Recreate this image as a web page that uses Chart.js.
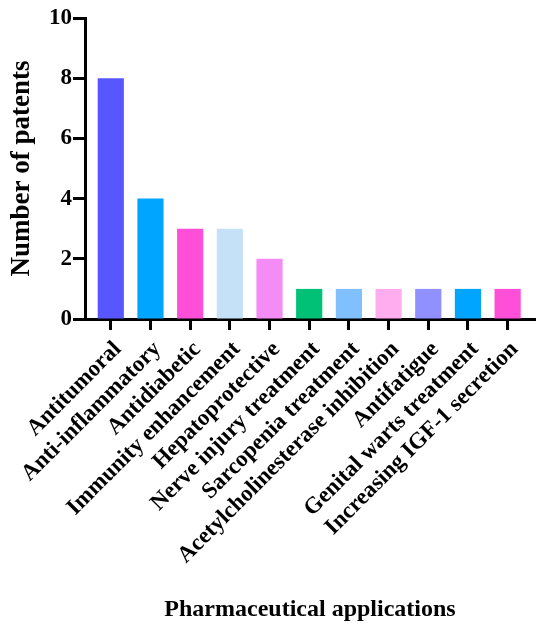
<!DOCTYPE html>
<html>
<head>
<meta charset="utf-8">
<script src="https://cdn.jsdelivr.net/npm/chart.js@4.4.1/dist/chart.umd.min.js"></script>
<style>
  html, body { margin: 0; padding: 0; background: #fff; }
  #wrap { width: 550px; height: 638px; }
</style>
</head>
<body>
<div id="wrap"><canvas id="chart"></canvas></div>
<script>
// Data
const categories = [
  'Antitumoral', 'Anti-inflammatory', 'Antidiabetic', 'Immunity enhancement',
  'Hepatoprotective', 'Nerve injury treatment', 'Sarcopenia treatment',
  'Acetylcholinesterase inhibition', 'Antifatigue', 'Genital warts treatment',
  'Increasing IGF-1 secretion'
];
const patentCounts = [8, 4, 3, 3, 2, 1, 1, 1, 1, 1, 1];
const barColors = [
  '#5856FF', '#00A5FF', '#FF4FD8', '#C4E1F8', '#F58CF5', '#00C176',
  '#80C0FF', '#FFADEE', '#9090FF', '#00A5FF', '#FF4FD8'
];
const yTicks = [0, 2, 4, 6, 8, 10];

const serif = '"Liberation Serif", "Times New Roman", serif';

const ctx = document.getElementById('chart').getContext('2d');
new Chart(ctx, {
  type: 'bar',
  data: {
    datasets: [{
      data: patentCounts.map((v, i) => ({ x: i, y: v })),
      backgroundColor: barColors,
      borderWidth: 0,
      barPercentage: 0.66,
      categoryPercentage: 1
    }]
  },
  options: {
    responsive: true,
    maintainAspectRatio: false,
    animation: false,
    layout: { padding: { top: 18, right: 15, bottom: 0, left: 0 } },
    plugins: {
      legend: { display: false },
      tooltip: { enabled: false }
    },
    scales: {
      x: {
        type: 'linear',
        offset: false,
        min: -0.65,
        max: 10.69,
        afterFit: (scale) => { scale.height = 319; },
        afterBuildTicks: (scale) => {
          scale.ticks = categories.map((c, i) => ({ value: i }));
        },
        grid: {
          offset: false,
          drawOnChartArea: false,
          tickLength: 11,
          tickWidth: 3,
          tickColor: '#000'
        },
        border: { display: true, color: '#000', width: 3 },
        ticks: {
          autoSkip: false,
          maxRotation: 45,
          minRotation: 45,
          padding: 6,
          labelOffset: 7,
          color: '#000',
          font: { family: serif, size: 23, weight: 'bold' },
          callback: (value) => categories[value]
        },
        title: {
          display: true,
          text: 'Pharmaceutical applications',
          color: '#000',
          font: { family: serif, size: 24, weight: 'bold' },
          padding: { top: 0, bottom: 14 }
        }
      },
      y: {
        min: 0,
        max: 10,
        afterFit: (scale) => { scale.width = 85; },
        afterBuildTicks: (scale) => {
          scale.ticks = yTicks.map(v => ({ value: v }));
        },
        grid: {
          drawOnChartArea: false,
          tickLength: 12,
          tickWidth: 3,
          tickColor: '#000'
        },
        border: { display: true, color: '#000', width: 3 },
        ticks: {
          padding: 1,
          color: '#000',
          font: { family: serif, size: 23, weight: 'bold' }
        },
        title: {
          display: true,
          text: 'Number of patents',
          color: '#000',
          font: { family: serif, size: 27, weight: 'bold' },
          padding: { top: 6, bottom: 0 }
        }
      }
    }
  }
});
</script>
</body>
</html>
